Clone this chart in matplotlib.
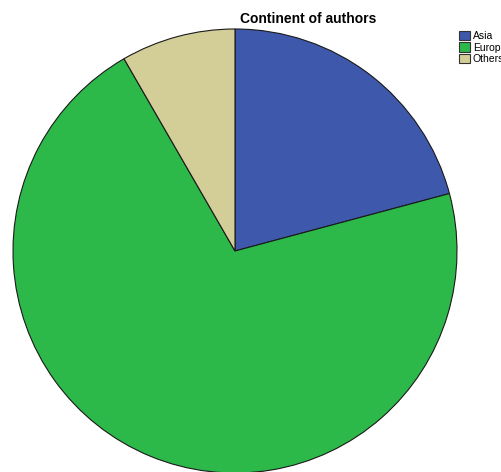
import matplotlib.pyplot as plt

continents = ['Asia', 'Europe', 'Others']
authors = [5, 17, 2]
colors = ['#3e58ac', '#2db84a', '#d3ce97']

plt.rcParams['font.family'] = ['Liberation Sans', 'DejaVu Sans']

fig = plt.figure(figsize=(5.01, 4.72), dpi=100)
ax = fig.add_axes([0, 0, 1, 1])

# pie in pixel-like coordinates so the circle sits where it should
wedges, _ = ax.pie(authors, colors=colors, startangle=90, counterclock=False,
                   center=(235, 221), radius=222,
                   wedgeprops=dict(edgecolor='#1a1a1a', linewidth=0.8))
ax.set_xlim(0, 501)
ax.set_ylim(0, 472)
ax.set_aspect('equal')
ax.axis('off')

fig.text(0.615, 0.96, 'Continent of authors', ha='center', va='center',
         fontsize=10, fontweight='bold')

leg = ax.legend(wedges, continents, loc='upper left',
                bbox_to_anchor=(457 / 501, 1 - 29 / 472), frameon=False,
                fontsize=7.5, handlelength=1.0, handleheight=1.0,
                handletextpad=0.3, labelspacing=0.1, borderpad=0.2,
                borderaxespad=0)
for h in leg.legend_handles:
    h.set_edgecolor('#333333')
    h.set_linewidth(0.8)

fig.savefig('out.png', dpi=100)
